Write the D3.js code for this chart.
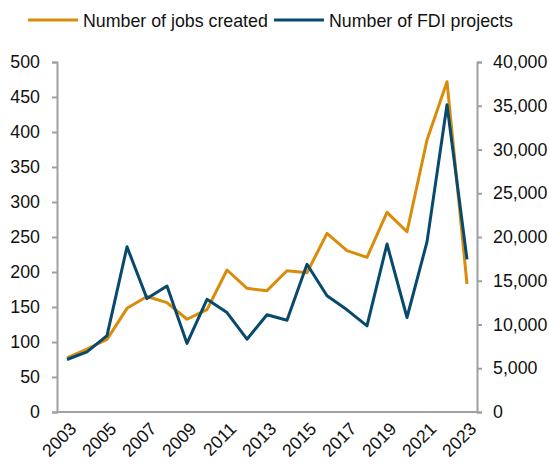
<!DOCTYPE html>
<html>
<head>
<meta charset="utf-8">
<script src="https://cdn.jsdelivr.net/npm/d3@7"></script>
<style>
  html, body { margin: 0; padding: 0; background: #fff; }
  svg { display: block; font-family: "Liberation Sans", Arial, sans-serif; }
</style>
</head>
<body>
<svg id="chart" width="549" height="468"></svg>
<script>
const years = ["2003","2004","2005","2006","2007","2008","2009","2010","2011","2012","2013","2014","2015","2016","2017","2018","2019","2020","2021","2022","2023"];
const yearLabels = ["2003","2005","2007","2009","2011","2013","2015","2017","2019","2021","2023"];
// Number of jobs created (right axis)
const jobsCreated = [6200, 7200, 8300, 11850, 13200, 12500, 10600, 11700, 16230, 14130, 13870, 16150, 15920, 20420, 18440, 17680, 22820, 20600, 31090, 37750, 14630];
// Number of FDI projects (left axis)
const fdiProjects = [75, 86, 109, 236, 162, 180, 98, 161, 142, 104, 139, 131, 211, 166, 146, 123, 240, 135, 243, 439, 218];
const leftTicks = [0, 50, 100, 150, 200, 250, 300, 350, 400, 450, 500];
const rightTicks = [0, 5000, 10000, 15000, 20000, 25000, 30000, 35000, 40000];
const seriesNames = ["Number of jobs created", "Number of FDI projects"];
const colors = ["#D98C0A", "#074A6E"];

const svg = d3.select("#chart");
const m = { left: 57, right: 477, top: 62, bottom: 412 };
const axisColor = "#A0A0A0";
const fontSize = 17.8;

const x = d3.scalePoint().domain(years).range([m.left, m.right]).padding(0.5);
const yL = d3.scaleLinear().domain([0, 500]).range([m.bottom, m.top]);
const yR = d3.scaleLinear().domain([0, 40000]).range([m.bottom, m.top]);

// left axis
const gL = svg.append("g").attr("transform", `translate(${m.left},0)`)
  .call(d3.axisLeft(yL).tickValues(leftTicks).tickSize(5).tickPadding(12).tickFormat(d3.format("d")));
// right axis
const gR = svg.append("g").attr("transform", `translate(${m.right},0)`)
  .call(d3.axisRight(yR).tickValues(rightTicks).tickSize(5).tickPadding(11).tickFormat(d3.format(",")));
[gL, gR].forEach(g => {
  g.select(".domain").attr("stroke", axisColor).attr("stroke-width", 2);
  g.selectAll(".tick line").attr("stroke", axisColor).attr("stroke-width", 2);
  g.selectAll(".tick text").attr("fill", "#111").style("font-size", fontSize + "px")
    .style("font-family", '"Liberation Sans", Arial, sans-serif');
});
// bottom axis
const gB = svg.append("g").attr("transform", `translate(0,${m.bottom})`)
  .call(d3.axisBottom(x).tickValues(yearLabels).tickSize(0).tickPadding(0));
gB.select(".domain").attr("stroke", axisColor).attr("stroke-width", 2)
  .attr("d", `M${m.left},0H${m.right}`);
gB.selectAll(".tick text")
  .attr("fill", "#111").style("font-size", fontSize + "px")
  .style("font-family", '"Liberation Sans", Arial, sans-serif')
  .attr("text-anchor", "end").attr("dy", "0")
  .attr("transform", "translate(10,18) rotate(-45)");

// lines
const lineL = d3.line().x((d, i) => x(years[i])).y(d => yL(d));
const lineR = d3.line().x((d, i) => x(years[i])).y(d => yR(d));
svg.append("path").datum(jobsCreated).attr("d", lineR)
  .attr("fill", "none").attr("stroke", colors[0]).attr("stroke-width", 3).attr("stroke-linejoin", "round");
svg.append("path").datum(fdiProjects).attr("d", lineL)
  .attr("fill", "none").attr("stroke", colors[1]).attr("stroke-width", 3).attr("stroke-linejoin", "round");

// legend
const legendItems = [{ x: 28, name: seriesNames[0], c: colors[0] }, { x: 274, name: seriesNames[1], c: colors[1] }];
legendItems.forEach(it => {
  const g = svg.append("g").attr("transform", `translate(${it.x},20)`);
  g.append("line").attr("x1", 0).attr("x2", 50).attr("y1", 0).attr("y2", 0)
    .attr("stroke", it.c).attr("stroke-width", 3);
  g.append("text").attr("x", 55).attr("y", 6.5).attr("fill", "#111")
    .style("font-size", fontSize + "px").text(it.name);
});
</script>
</body>
</html>
